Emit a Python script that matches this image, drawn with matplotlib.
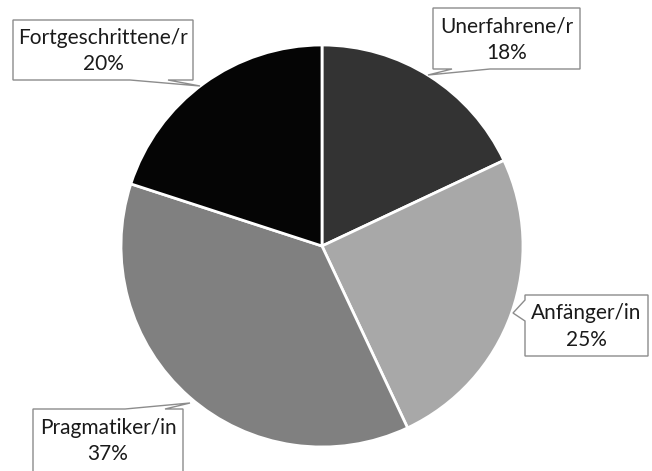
import matplotlib.pyplot as plt
from matplotlib.patches import Polygon

W, H = 652, 471

groups = ["Unerfahrene/r", "Anfänger/in", "Pragmatiker/in", "Fortgeschrittene/r"]
shares = [18, 25, 37, 20]
colors = ["#333333", "#a8a8a8", "#808080", "#050505"]

plt.rcParams['font.family'] = ['Lato', 'DejaVu Sans']

fig = plt.figure(figsize=(W / 100, H / 100), dpi=100)
ax = fig.add_axes([0, 0, 1, 1])

# pie in pixel coordinates (y measured from the bottom)
cx, cy, r = 322, H - 246, 201
ax.pie(shares, colors=colors, startangle=90, counterclock=False,
       center=(cx, cy), radius=r, frame=True,
       wedgeprops=dict(edgecolor="white", linewidth=2))
ax.set_xlim(0, W)
ax.set_ylim(0, H)
ax.set_aspect("equal")
ax.axis("off")

# callout boxes: (x0, y0, x1, y1) in top-down pixels, pointer base on one side, tip
callouts = [
    dict(box=(433, 8, 580, 69), side="bottom", base=(452, 490), tip=(428, 75)),
    dict(box=(525, 295, 648, 356), side="left", base=(300, 321), tip=(513, 313)),
    dict(box=(33, 409, 183, 478), side="top", base=(125, 165), tip=(190, 403)),
    dict(box=(13, 20, 193, 80), side="bottom", base=(130, 168), tip=(200, 86)),
]


def fy(y):
    return H - y


for name, pct, c in zip(groups, shares, callouts):
    x0, y0, x1, y1 = c["box"]
    a, b = c["base"]
    tx, ty = c["tip"]
    if c["side"] == "bottom":
        pts = [(x0, y0), (x1, y0), (x1, y1), (b, y1), (tx, ty), (a, y1), (x0, y1)]
    elif c["side"] == "top":
        pts = [(x0, y0), (a, y0), (tx, ty), (b, y0), (x1, y0), (x1, y1), (x0, y1)]
    else:
        pts = [(x0, y0), (x1, y0), (x1, y1), (x0, y1), (x0, b), (tx, ty), (x0, a)]
    poly = Polygon([(x, fy(y)) for x, y in pts], closed=True,
                   facecolor="white", edgecolor="#8c8c8c", linewidth=1, zorder=5)
    ax.add_patch(poly)
    ax.text((x0 + x1) / 2, fy((y0 + min(y1, H)) / 2 + 1), "%s\n%d%%" % (name, pct),
            ha="center", va="center", fontsize=15, color="#1a1a1a",
            linespacing=1.4, zorder=6)

fig.savefig("out.png", dpi=100)
